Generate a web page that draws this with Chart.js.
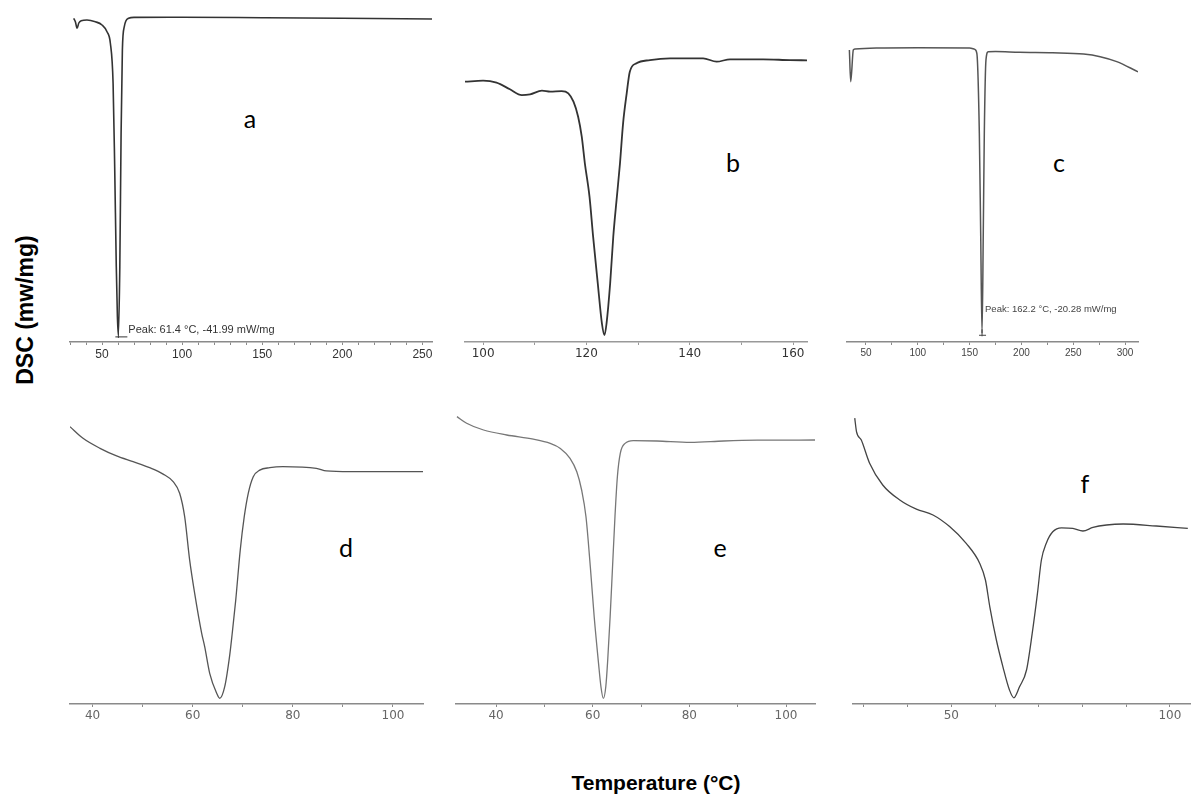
<!DOCTYPE html>
<html>
<head>
<meta charset="utf-8">
<script src="https://cdn.jsdelivr.net/npm/chart.js@4.4.0/dist/chart.umd.min.js"></script>
<style>
  html, body { margin: 0; padding: 0; background: #fff; }
  body { width: 1191px; height: 797px; position: relative; overflow: hidden; font-family: 'Liberation Sans', Arial, sans-serif; }
  .panel { position: absolute; }
  .tag { position: absolute; font-family: Lato, 'Open Sans', sans-serif; font-size: 25px; line-height: 25px; color: #000; transform: translateX(-50%); }
  #ylab { position: absolute; left: 25px; top: 310px; transform: translate(-50%, -50%) rotate(-90deg); font-weight: bold; font-size: 23px; white-space: nowrap; }
  #xlab { position: absolute; left: 656px; top: 783px; transform: translate(-50%, -50%); font-weight: bold; font-size: 21px; white-space: nowrap; }
</style>
</head>
<body>
<div id="ylab">DSC (mw/mg)</div>
<div id="xlab">Temperature (°C)</div>

<div class="tag" style="left:250px;top:106px">a</div>
<div class="tag" style="left:733px;top:150px">b</div>
<div class="tag" style="left:1059px;top:150px">c</div>
<div class="tag" style="left:346px;top:535px">d</div>
<div class="tag" style="left:720px;top:535px">e</div>
<div class="tag" style="left:1085px;top:471px">f</div>

<script>
// temperature (°C) and heat flow (mW/mg, b-f arbitrary scale)
const aTemp = [32.3, 33.4, 34.4, 35.5, 37, 40.6, 45.8, 50, 53.1, 55.2, 56.9, 57.9, 58.9, 59.6, 60.2, 61.1, 61.9, 62.7, 63.9, 66.6, 70, 100, 150, 200, 256]
const aHeat = [-0.11, -0.60, -1.43, -0.73, -0.42, -0.33, -0.56, -0.99, -1.88, -3.41, -8.71, -19.74, -32.97, -39.6, -41.99, -32.97, -15.28, -4.30, -1.22, -0.11, 0.02, 0.03, -0.03, -0.10, -0.20]

const bTemp = [96.5, 100, 102.6, 105.2, 107.5, 109.1, 111.4, 113, 115.2, 116.5, 117.5, 118.4, 119.1, 119.7, 120.6, 121.3, 122.2, 123.0, 123.5, 123.9, 124.6, 125.2, 125.9, 126.5, 127.1, 127.8, 128.4, 129.7, 132.3, 136.2, 142.6, 145.2, 147.8, 154.2, 159.4, 162.7]
const bHeat = [-1.17, -1.12, -1.22, -1.55, -1.84, -1.80, -1.62, -1.67, -1.64, -1.75, -2.17, -2.92, -3.92, -5.25, -6.92, -8.92, -11.25, -13.25, -13.84, -13.25, -11.25, -8.92, -6.92, -5.25, -3.25, -1.75, -0.67, -0.25, -0.09, 0, 0, -0.17, -0.05, -0.05, -0.09, -0.10]

const cTemp = [34, 35.3, 37.8, 39.4, 60, 100, 150, 155, 157, 159.4, 160.7, 162.0, 163.2, 164.2, 165.8, 168, 175, 198, 230, 260, 276, 292, 312.5]
const cHeat = [-0.14, -2.40, -0.14, -0.07, 0, 0.02, 0, -0.1, -0.38, -6.06, -13.15, -20.28, -13.15, -6.06, -0.85, -0.26, -0.25, -0.31, -0.34, -0.43, -0.62, -0.97, -1.69]

const dTemp = [35.5, 38.1, 41.5, 44.8, 48.1, 51.4, 54.1, 56.1, 57.4, 58.4, 59.4, 60.4, 61.8, 62.4, 63.4, 64.8, 65.4, 66.4, 67.4, 67.9, 68.6, 69.5, 70.3, 71.1, 72.1, 73.4, 75.4, 78, 84.7, 86.7, 91.4, 106]
const dHeat = [2.25, 1.67, 1.17, 0.79, 0.5, 0.2, -0.12, -0.5, -1.08, -2.25, -4.42, -6.08, -8.08, -8.75, -10.08, -11.08, -11.33, -10.75, -9.17, -8.08, -6.42, -3.92, -2.25, -1.08, -0.25, 0.08, 0.2, 0.25, 0.17, 0.04, 0, 0]

const eTemp = [31.9, 33.9, 37.4, 42.2, 47.7, 51.2, 53.3, 55.3, 56.7, 57.7, 58.6, 59.5, 60.3, 61.2, 61.7, 62.2, 62.7, 63.1, 63.6, 64.1, 64.6, 65.1, 65.7, 66.7, 68.4, 73.3, 80.2, 87.1, 94, 106]
const eHeat = [1.22, 0.89, 0.55, 0.3, 0.09, -0.12, -0.37, -0.87, -1.54, -2.45, -3.79, -6.29, -8.79, -11.12, -12.29, -12.87, -12.29, -10.95, -8.79, -6.29, -3.79, -1.79, -0.62, -0.12, 0.02, 0, -0.07, 0, 0.04, 0.05]

const fTemp = [27.9, 28.3, 29.4, 31.3, 34.3, 38.2, 42, 45.8, 49.6, 53.4, 56.5, 57.8, 58.8, 60.3, 61.8, 63.3, 64.3, 65.6, 67.2, 68.5, 69.7, 70.6, 71.7, 73.2, 75.2, 77.8, 80.1, 82.4, 85.5, 89.3, 96.9, 104.1]
const fHeat = [5.44, 4.77, 4.35, 3.19, 2.1, 1.35, 0.89, 0.6, 0.02, -0.82, -1.82, -2.65, -3.99, -5.65, -6.99, -8.15, -8.54, -7.99, -7.15, -5.32, -3.32, -1.65, -0.82, -0.24, -0.04, -0.07, -0.2, -0.02, 0.1, 0.15, 0.05, -0.07]

const aPeakNote = 'Peak: 61.4 °C, -41.99 mW/mg'
const cPeakNote = 'Peak: 162.2 °C, -20.28 mW/mg'

// small text + cross at the lowest point of the curve
const peakNote = {
  id: 'peakNote',
  afterDatasetsDraw(chart, args, opts) {
    if (!opts.text) return
    const data = chart.data.datasets[0].data
    let k = 0
    data.forEach((d, i) => { if (d.y < data[k].y) k = i })
    const p = chart.getDatasetMeta(0).data[k]
    const ctx = chart.ctx
    ctx.save()
    ctx.strokeStyle = opts.color
    ctx.lineWidth = 1
    ctx.beginPath()
    ctx.moveTo(p.x, p.y - opts.mark)
    ctx.lineTo(p.x, p.y + 3)
    ctx.moveTo(p.x - 3, p.y + 2)
    ctx.lineTo(p.x + opts.mark, p.y + 2)
    ctx.stroke()
    ctx.fillStyle = opts.color
    ctx.font = opts.font
    ctx.fillText(opts.text, p.x + opts.dx, p.y + opts.dy)
    ctx.restore()
  }
}

const PAD = 30
const XH = 24

const panels = [
  { temp: aTemp, heat: aHeat, left: 40, top: 0, w: 422, h: 366, xmin: 30, xmax: 256, ymin: -42.93, ymax: 0.99,
    step: 10, every: 50, line: '#333', lw: 1.6, font: {family: 'Liberation Sans', size: 12}, tickColor: '#333', axis: '#8a8a8a',
    note: { text: aPeakNote, dx: 10, dy: -2, mark: 9, font: '11px "Liberation Sans", Arial', color: '#333' } },
  { temp: bTemp, heat: bHeat, left: 435, top: 0, w: 402, h: 366, xmin: 96.5, xmax: 162.7, ymin: -14.185, ymax: 2.415,
    step: 10, every: 20, line: '#333', lw: 1.8, font: {family: 'DejaVu Sans', size: 12}, tickColor: '#333', axis: '#999', note: {} },
  { temp: cTemp, heat: cHeat, left: 817, top: 0, w: 351, h: 366, xmin: 31.7, xmax: 312.5, ymin: -20.90, ymax: 2.70,
    step: 25, every: 50, line: '#555', lw: 1.5, font: {family: 'Liberation Sans', size: 10}, tickColor: '#444', axis: '#8a8a8a',
    note: { text: cPeakNote, dx: 3, dy: -21, mark: 4, font: '9.5px "Liberation Sans", Arial', color: '#444' } },
  { temp: dTemp, heat: dHeat, left: 40, top: 400, w: 413, h: 328, xmin: 35.5, xmax: 106, ymin: -11.615, ymax: 3.085,
    step: 10, every: 20, line: '#555', lw: 1.3, font: {family: 'DejaVu Sans', size: 12}, tickColor: '#666', axis: '#8a8a8a', note: {} },
  { temp: eTemp, heat: eHeat, left: 426, top: 400, w: 419, h: 328, xmin: 31.7, xmax: 106, ymin: -13.15, ymax: 1.55,
    step: 10, every: 20, line: '#777', lw: 1.3, font: {family: 'DejaVu Sans', size: 12}, tickColor: '#666', axis: '#8a8a8a', note: {} },
  { temp: fTemp, heat: fHeat, left: 823, top: 400, w: 397, h: 328, xmin: 27.5, xmax: 104.6, ymin: -8.85, ymax: 5.85,
    step: 10, every: 50, line: '#444', lw: 1.3, font: {family: 'DejaVu Sans', size: 12}, tickColor: '#666', axis: '#8a8a8a', note: {} }
]

panels.forEach(p => {
  const box = document.createElement('div')
  box.className = 'panel'
  box.style.left = p.left + 'px'
  box.style.top = p.top + 'px'
  const canvas = document.createElement('canvas')
  canvas.width = p.w
  canvas.height = p.h
  canvas.style.width = p.w + 'px'
  canvas.style.height = p.h + 'px'
  box.appendChild(canvas)
  document.body.appendChild(box)

  new Chart(canvas, {
    type: 'line',
    data: {
      datasets: [{
        data: p.temp.map((t, i) => ({ x: t, y: p.heat[i] })),
        borderColor: p.line,
        borderWidth: p.lw,
        pointRadius: 0,
        fill: false,
        cubicInterpolationMode: 'monotone'
      }]
    },
    options: {
      responsive: false,
      animation: false,
      events: [],
      layout: { padding: { left: PAD, right: PAD, top: 10, bottom: 0 } },
      plugins: { legend: { display: false }, tooltip: { enabled: false }, peakNote: p.note },
      scales: {
        x: {
          type: 'linear',
          min: p.xmin,
          max: p.xmax,
          afterFit: s => { s.height = XH },
          border: { display: true, color: p.axis, width: 1.5 },
          grid: { display: true, drawOnChartArea: false, drawTicks: true, tickLength: 3, color: p.axis },
          ticks: {
            stepSize: p.step,
            includeBounds: false,
            autoSkip: false,
            maxRotation: 0,
            padding: 2,
            color: p.tickColor,
            font: p.font,
            callback: v => (v % p.every === 0 ? String(v) : '')
          }
        },
        y: { display: false, min: p.ymin, max: p.ymax }
      }
    },
    plugins: [peakNote]
  })
})
</script>
</body>
</html>
